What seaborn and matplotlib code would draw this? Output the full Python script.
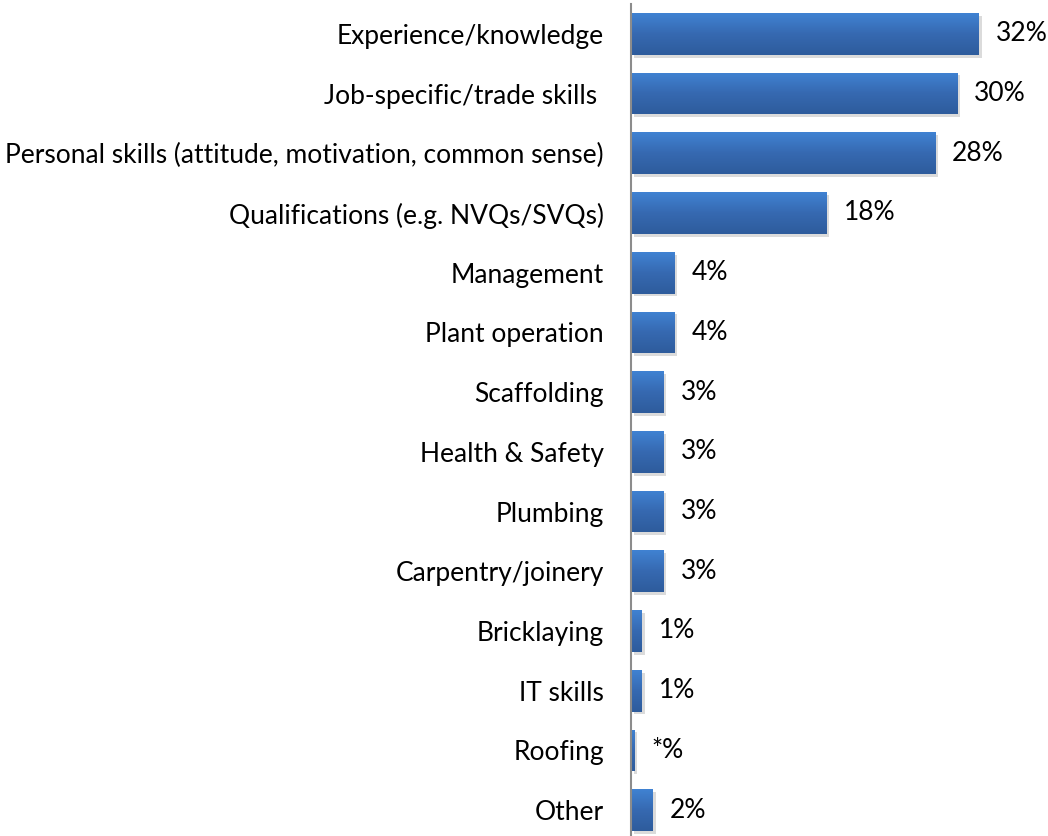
import numpy as np
import pandas as pd
import matplotlib
matplotlib.use("Agg")
import matplotlib.pyplot as plt
import matplotlib.patheffects as pe
from matplotlib.colors import LinearSegmentedColormap
import seaborn as sns

categories = [
    "Experience/knowledge",
    "Job-specific/trade skills ",
    "Personal skills (attitude, motivation, common sense)",
    "Qualifications (e.g. NVQs/SVQs)",
    "Management",
    "Plant operation",
    "Scaffolding",
    "Health & Safety",
    "Plumbing",
    "Carpentry/joinery",
    "Bricklaying",
    "IT skills",
    "Roofing",
    "Other",
]
values = [32, 30, 28, 18, 4, 4, 3, 3, 3, 3, 1, 1, 0.3, 2]
value_labels = ["32%", "30%", "28%", "18%", "4%", "4%", "3%", "3%", "3%", "3%",
                "1%", "1%", "*%", "2%"]

sns.set_theme(style="white")
plt.rcParams["font.family"] = ["Lato", "DejaVu Sans"]

df = pd.DataFrame({"category": categories, "value": values})

fig = plt.figure(figsize=(10.48, 8.36), dpi=100)
ax = fig.add_axes([631 / 1048, -4 / 836, 413 / 1048, 836 / 836])

sns.barplot(data=df, y="category", x="value", orient="h", color="#3A74C0",
            width=0.7, ax=ax, saturation=1)

grad = LinearSegmentedColormap.from_list("bar", ["#4082D2", "#3669B1", "#2E5C9C"])
gimg = np.linspace(0, 1, 64).reshape(-1, 1)
for p in ax.patches:
    x0, y0 = p.get_x(), p.get_y()
    w, h = p.get_width(), p.get_height()
    p.set_edgecolor("none")
    p.set_path_effects([pe.SimplePatchShadow(offset=(2, -2), shadow_rgbFace="#999999",
                                             alpha=0.35), pe.Normal()])
    im = ax.imshow(gimg, cmap=grad, aspect="auto", extent=(x0, x0 + w, y0 + h, y0),
                   origin="upper", zorder=p.get_zorder() + 0.1, interpolation="bilinear")
    im.set_clip_path(p)

for i, (v, lab) in enumerate(zip(values, value_labels)):
    ax.text(v + 1.55, i, lab, va="center", ha="left", fontsize=19, color="#000000")

ax.set_xlim(0, 38)
ax.set_ylim(13.5, -0.5)
ax.set_xlabel("")
ax.set_ylabel("")
ax.set_xticks([])
ax.tick_params(axis="y", length=0, pad=19.5, labelsize=19, labelcolor="#000000")
for s in ["top", "right", "bottom"]:
    ax.spines[s].set_visible(False)
ax.spines["left"].set_color("#8C8C8C")
ax.spines["left"].set_linewidth(1.5)

fig.savefig("out.png", dpi=100)
